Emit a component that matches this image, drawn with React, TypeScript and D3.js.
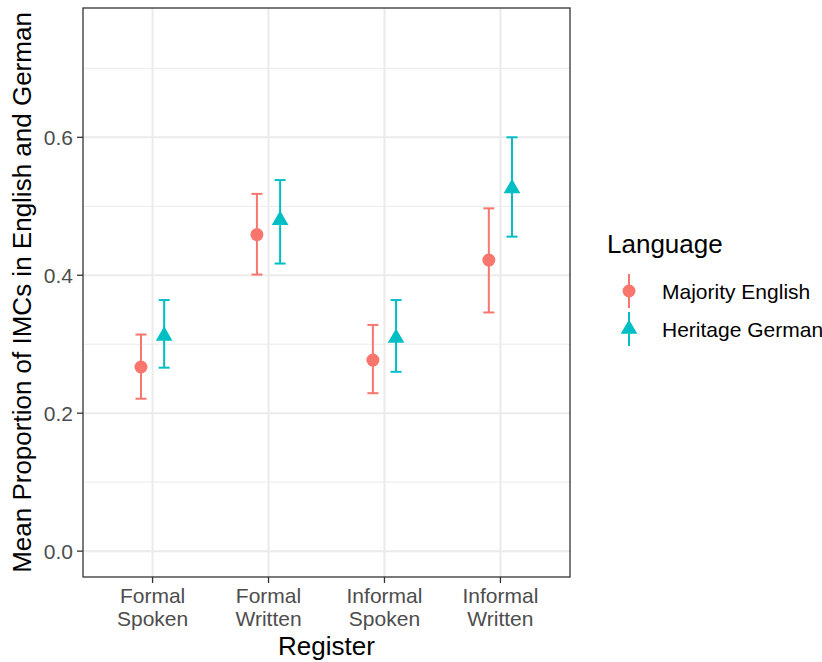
import { useEffect, useRef } from 'react'
import * as d3 from 'd3'

const registers = ['Formal\nSpoken', 'Formal\nWritten', 'Informal\nSpoken', 'Informal\nWritten']
const languages = ['Majority English', 'Heritage German']
const colors = ['#F8766D', '#00BFC4']

// mean, lower, upper per register
const englishMean = [0.267, 0.459, 0.277, 0.422]
const englishLow = [0.221, 0.401, 0.229, 0.346]
const englishHigh = [0.314, 0.518, 0.328, 0.497]
const germanMean = [0.312, 0.480, 0.309, 0.526]
const germanLow = [0.266, 0.417, 0.260, 0.456]
const germanHigh = [0.364, 0.538, 0.364, 0.600]

const yTicks = [0, 0.2, 0.4, 0.6]
const yMinor = [0.1, 0.3, 0.5, 0.7]

export default function App() {
  const svgRef = useRef<SVGSVGElement>(null)
  const width = 822
  const height = 662
  const margin = { top: 8, right: 252, bottom: 85, left: 83 }

  useEffect(() => {
    if (!svgRef.current) return
    const svg = d3.select(svgRef.current)
    svg.selectAll('*').remove()

    const innerWidth = width - margin.left - margin.right
    const innerHeight = height - margin.top - margin.bottom

    const x = d3.scalePoint<string>()
      .domain(registers)
      .range([0, innerWidth])
      .padding(0.6)
    const step = x.step()
    const dodge = d3.scalePoint<string>()
      .domain(languages)
      .range([-0.1 * step, 0.1 * step])

    const y = d3.scaleLinear()
      .domain([-0.0375, 0.7875])
      .range([innerHeight, 0])

    const g = svg.append('g')
      .attr('transform', `translate(${margin.left},${margin.top})`)

    g.append('rect')
      .attr('width', innerWidth).attr('height', innerHeight)
      .attr('fill', '#fff')

    g.selectAll('.minor')
      .data(yMinor)
      .enter().append('line')
      .attr('x1', 0).attr('x2', innerWidth)
      .attr('y1', d => y(d)).attr('y2', d => y(d))
      .attr('stroke', '#EBEBEB').attr('stroke-width', 1)

    g.selectAll('.major')
      .data(yTicks)
      .enter().append('line')
      .attr('x1', 0).attr('x2', innerWidth)
      .attr('y1', d => y(d)).attr('y2', d => y(d))
      .attr('stroke', '#EBEBEB').attr('stroke-width', 2)

    g.selectAll('.vmajor')
      .data(registers)
      .enter().append('line')
      .attr('x1', d => x(d) || 0).attr('x2', d => x(d) || 0)
      .attr('y1', 0).attr('y2', innerHeight)
      .attr('stroke', '#EBEBEB').attr('stroke-width', 2)

    const series = languages.map((lang, i) => ({
      lang,
      color: colors[i],
      points: registers.map((r, j) => ({
        r,
        mean: i === 0 ? englishMean[j] : germanMean[j],
        low: i === 0 ? englishLow[j] : germanLow[j],
        high: i === 0 ? englishHigh[j] : germanHigh[j],
      })),
    }))

    const capHalf = 5.5
    const lw = 2
    const tri = d3.symbol(d3.symbolTriangle, 120)

    series.forEach((s, i) => {
      const sg = g.append('g')
      s.points.forEach(p => {
        const cx = (x(p.r) || 0) + (dodge(s.lang) || 0)
        sg.append('line')
          .attr('x1', cx).attr('x2', cx)
          .attr('y1', y(p.low)).attr('y2', y(p.high))
          .attr('stroke', s.color).attr('stroke-width', lw)
        ;[p.low, p.high].forEach(v => {
          sg.append('line')
            .attr('x1', cx - capHalf).attr('x2', cx + capHalf)
            .attr('y1', y(v)).attr('y2', y(v))
            .attr('stroke', s.color).attr('stroke-width', lw)
        })
        if (i === 0) {
          sg.append('circle')
            .attr('cx', cx).attr('cy', y(p.mean)).attr('r', 6.5)
            .attr('fill', s.color)
        } else {
          sg.append('path')
            .attr('d', tri)
            .attr('transform', `translate(${cx},${y(p.mean)})`)
            .attr('fill', s.color)
        }
      })
    })

    g.append('rect')
      .attr('width', innerWidth).attr('height', innerHeight)
      .attr('fill', 'none').attr('stroke', '#333333').attr('stroke-width', 1.3)

    // y axis
    const yAxis = g.append('g')
    yTicks.forEach(t => {
      yAxis.append('line')
        .attr('x1', -6).attr('x2', 0)
        .attr('y1', y(t)).attr('y2', y(t))
        .attr('stroke', '#333333').attr('stroke-width', 1.3)
      yAxis.append('text')
        .attr('x', -10).attr('y', y(t)).attr('dy', '0.36em')
        .attr('text-anchor', 'end')
        .attr('fill', '#4D4D4D').attr('font-size', 21)
        .text(d3.format('.1f')(t))
    })

    // x axis
    const xAxis = g.append('g').attr('transform', `translate(0,${innerHeight})`)
    registers.forEach(r => {
      const px = x(r) || 0
      xAxis.append('line')
        .attr('x1', px).attr('x2', px).attr('y1', 0).attr('y2', 6)
        .attr('stroke', '#333333').attr('stroke-width', 1.3)
      const t = xAxis.append('text')
        .attr('text-anchor', 'middle')
        .attr('fill', '#4D4D4D').attr('font-size', 21)
      r.split('\n').forEach((line, k) => {
        t.append('tspan').attr('x', px).attr('y', 26 + k * 23).text(line)
      })
    })

    svg.append('text')
      .attr('x', margin.left + innerWidth / 2).attr('y', 655)
      .attr('text-anchor', 'middle').attr('font-size', 26).attr('fill', '#000')
      .text('Register')

    svg.append('text')
      .attr('transform', `translate(31,${margin.top + innerHeight / 2}) rotate(-90)`)
      .attr('text-anchor', 'middle').attr('font-size', 26).attr('fill', '#000')
      .text('Mean Proportion of IMCs in English and German')

    // legend
    const lg = svg.append('g').attr('transform', 'translate(607,0)')
    lg.append('text')
      .attr('x', 0).attr('y', 253)
      .attr('font-size', 26).attr('fill', '#000')
      .text('Language')
    series.forEach((s, i) => {
      const cy = 291 + i * 38
      lg.append('line')
        .attr('x1', 22).attr('x2', 22).attr('y1', cy - 17).attr('y2', cy + 17)
        .attr('stroke', s.color).attr('stroke-width', lw)
      if (i === 0) {
        lg.append('circle').attr('cx', 22).attr('cy', cy).attr('r', 6.5).attr('fill', s.color)
      } else {
        lg.append('path').attr('d', tri).attr('transform', `translate(22,${cy})`).attr('fill', s.color)
      }
      lg.append('text')
        .attr('x', 55).attr('y', cy).attr('dy', '0.36em')
        .attr('font-size', 21).attr('fill', '#000')
        .text(s.lang)
    })
  }, [])

  return (
    <svg
      ref={svgRef}
      width={width}
      height={height}
      style={{ position: 'absolute', left: 0, top: 0, fontFamily: 'Liberation Sans, Arial, sans-serif' }}
    />
  )
}
